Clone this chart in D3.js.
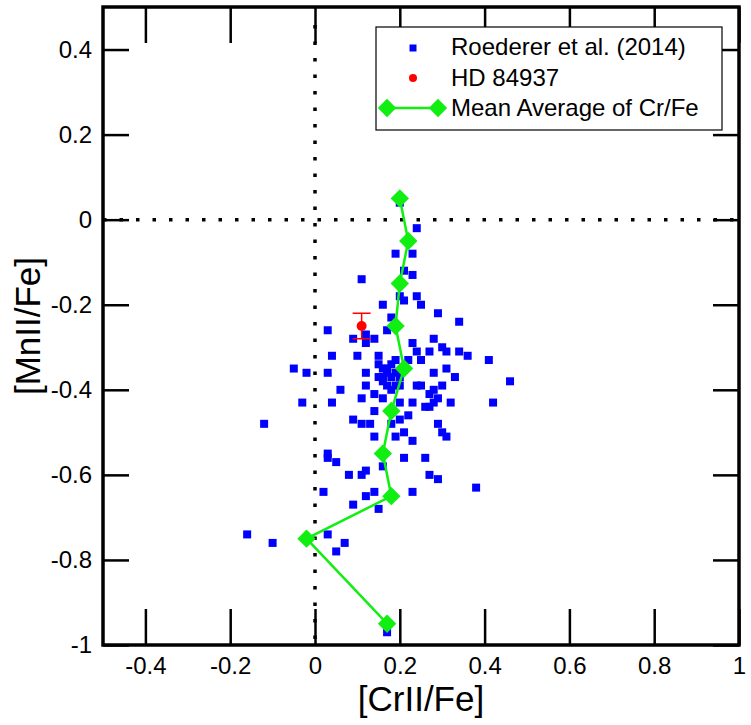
<!DOCTYPE html>
<html>
<head>
<meta charset="utf-8">
<script src="https://cdn.jsdelivr.net/npm/d3@7"></script>
<style>
  html, body { margin: 0; padding: 0; background: #fff; }
  svg { display: block; }
  text { font-family: "Liberation Sans", Arial, Helvetica, sans-serif; }
</style>
</head>
<body>
<svg id="chart" width="751" height="725"></svg>
<script>
// ---------- data ----------
const roedererX = [
  0.20, 0.24, 0.19, 0.23, 0.21, 0.23, 0.11, 0.20, 0.24, 0.21,
  0.16, 0.25, 0.29, 0.18, 0.34, 0.03, 0.17, 0.09, 0.12, 0.12,
  0.14, 0.28, 0.23, 0.30, 0.04, 0.10, 0.15, 0.24, 0.27, 0.31,
  0.34, 0.36, 0.22, 0.25, 0.41, -0.05, -0.02, 0.03, 0.12, 0.17,
  0.18, 0.16, 0.18, 0.28, 0.31, 0.33, 0.46, 0.06, 0.12, 0.16,
  0.17, 0.24, 0.25, 0.30, 0.18, 0.28, 0.27, 0.14, -0.03, 0.04,
  0.11, 0.16, 0.20, 0.23, 0.28, 0.32, 0.42, 0.26, 0.27, 0.29,
  0.14, 0.22, 0.20, 0.09, 0.11, 0.13, 0.18, -0.12, 0.29, 0.21,
  0.30, 0.14, 0.19, 0.31, 0.23, 0.03, 0.03, 0.05, 0.21, 0.26,
  0.16, 0.08, 0.11, 0.12, 0.27, 0.29, 0.38, 0.02, 0.12, 0.14,
  0.23, 0.09, 0.15, -0.16, 0.03, -0.10, 0.07, 0.05, 0.17,
  0.15, 0.16, 0.17, 0.19, 0.20, 0.15, 0.19, 0.20, 0.19
];
const roedererY = [
  0.04, -0.02, -0.08, -0.08, -0.12, -0.13, -0.14, -0.18, -0.18, -0.19,
  -0.20, -0.20, -0.22, -0.23, -0.24, -0.26, -0.26, -0.28, -0.27, -0.29,
  -0.28, -0.28, -0.29, -0.30, -0.32, -0.32, -0.32, -0.31, -0.31, -0.31,
  -0.31, -0.32, -0.33, -0.33, -0.33, -0.35, -0.36, -0.36, -0.36, -0.35,
  -0.34, -0.37, -0.37, -0.36, -0.35, -0.37, -0.38, -0.40, -0.39, -0.38,
  -0.39, -0.39, -0.39, -0.39, -0.40, -0.40, -0.41, -0.41, -0.43, -0.43,
  -0.42, -0.42, -0.43, -0.43, -0.43, -0.43, -0.43, -0.44, -0.44, -0.42,
  -0.45, -0.46, -0.47, -0.47, -0.48, -0.48, -0.48, -0.48, -0.48, -0.50,
  -0.50, -0.51, -0.51, -0.51, -0.52, -0.55, -0.56, -0.57, -0.56, -0.56,
  -0.58, -0.60, -0.60, -0.59, -0.60, -0.61, -0.63, -0.64, -0.65, -0.64,
  -0.64, -0.67, -0.68, -0.74, -0.74, -0.76, -0.76, -0.78, -0.97,
  -0.34, -0.35, -0.36, -0.36, -0.37, -0.37, -0.39, -0.39, -0.33
];
const hdX = [0.11];
const hdY = [-0.25];
const hdErr = [0.03];
const meanX = [0.20, 0.22, 0.20, 0.19, 0.21, 0.18, 0.16, 0.18, -0.02, 0.17];
const meanY = [0.05, -0.05, -0.15, -0.25, -0.35, -0.45, -0.55, -0.65, -0.75, -0.95];
const xTicks = [-0.4, -0.2, 0, 0.2, 0.4, 0.6, 0.8, 1];
const xTickLabels = ["-0.4", "-0.2", "0", "0.2", "0.4", "0.6", "0.8", "1"];
const yTicks = [-1, -0.8, -0.6, -0.4, -0.2, 0, 0.2, 0.4];
const yTickLabels = ["-1", "-0.8", "-0.6", "-0.4", "-0.2", "0", "0.2", "0.4"];
const legendLabels = ["Roederer et al. (2014)", "HD 84937", "Mean Average of Cr/Fe"];
const xTitle = "[CrII/Fe]";
const yTitle = "[MnII/Fe]";

// ---------- layout ----------
const svg = d3.select("#chart");
const L = 103, R = 739, T = 7, B = 645;
const x = d3.scaleLinear().domain([-0.5, 1]).range([L, R]);
const y = d3.scaleLinear().domain([-1, 0.5]).range([B, T]);
const fx = d => xTickLabels[xTicks.indexOf(d)];
const fy = d => yTickLabels[yTicks.indexOf(d)];

const BLUE = "#0000ff", RED = "#ff0000", GREEN = "#11ee11";

// axes
const gx = svg.append("g").attr("transform", `translate(0,${B})`)
  .call(d3.axisBottom(x).tickValues(xTicks).tickFormat(fx).tickSizeInner(-36).tickSizeOuter(0).tickPadding(12));
const gxt = svg.append("g").attr("transform", `translate(0,${T})`)
  .call(d3.axisTop(x).tickValues(xTicks).tickFormat("").tickSizeInner(-36).tickSizeOuter(0));
const gy = svg.append("g").attr("transform", `translate(${L},0)`)
  .call(d3.axisLeft(y).tickValues(yTicks).tickFormat(fy).tickSizeInner(-26).tickSizeOuter(0).tickPadding(11));
const gyr = svg.append("g").attr("transform", `translate(${R},0)`)
  .call(d3.axisRight(y).tickValues(yTicks).tickFormat("").tickSizeInner(-26).tickSizeOuter(0));
[gx, gxt, gy, gyr].forEach(g => {
  g.select(".domain").remove();
  g.selectAll(".tick line").attr("stroke", "#000").attr("stroke-width", 2.5);
  g.selectAll(".tick text").attr("fill", "#000").style("font-size", "24px")
    .style("font-family", '"Liberation Sans", Arial, Helvetica, sans-serif');
});

// zero dotted lines
svg.append("line").attr("x1", x(0)).attr("x2", x(0)).attr("y1", T + 18).attr("y2", B)
  .attr("stroke", "#000").attr("stroke-width", 3.5).attr("stroke-dasharray", "3.5 13");
svg.append("line").attr("x1", L).attr("x2", R).attr("y1", y(0)).attr("y2", y(0))
  .attr("stroke", "#000").attr("stroke-width", 3.5).attr("stroke-dasharray", "3.5 13");

// frame
svg.append("rect").attr("x", L).attr("y", T).attr("width", R - L).attr("height", B - T)
  .attr("fill", "none").attr("stroke", "#000").attr("stroke-width", 3.5);

// blue squares
const sq = 8;
svg.append("g").selectAll("rect").data(d3.range(roedererX.length)).join("rect")
  .attr("x", i => x(roedererX[i]) - sq / 2).attr("y", i => y(roedererY[i]) - sq / 2)
  .attr("width", sq).attr("height", sq).attr("fill", BLUE);

// mean line
const meanPts = d3.range(meanX.length).map(i => [x(meanX[i]), y(meanY[i])]);
svg.append("path").attr("d", d3.line()(meanPts)).attr("fill", "none")
  .attr("stroke", GREEN).attr("stroke-width", 2.5);
const diamond = d3.symbol().type(d3.symbolSquare).size(13 * 13);
svg.append("g").selectAll("path").data(meanPts).join("path")
  .attr("transform", d => `translate(${d[0]},${d[1]}) rotate(45)`)
  .attr("d", diamond).attr("fill", GREEN);

// HD 84937 with error bar
hdX.forEach((v, i) => {
  const cx = x(v), cy = y(hdY[i]);
  const yt = y(hdY[i] + hdErr[i]), yb = y(hdY[i] - hdErr[i]);
  const g = svg.append("g").attr("stroke", RED).attr("stroke-width", 1.5);
  g.append("line").attr("x1", cx).attr("x2", cx).attr("y1", yt).attr("y2", yb);
  g.append("line").attr("x1", cx - 9).attr("x2", cx + 9).attr("y1", yt).attr("y2", yt);
  g.append("line").attr("x1", cx - 9).attr("x2", cx + 9).attr("y1", yb).attr("y2", yb);
  svg.append("circle").attr("cx", cx).attr("cy", cy).attr("r", 5).attr("fill", RED);
});

// legend
const lg = svg.append("g");
lg.append("rect").attr("x", 376).attr("y", 27).attr("width", 346).attr("height", 103)
  .attr("fill", "#fff").attr("stroke", "#000").attr("stroke-width", 1.2);
lg.append("rect").attr("x", 413 - 3.5).attr("y", 48 - 3.5).attr("width", 7).attr("height", 7).attr("fill", BLUE);
lg.append("circle").attr("cx", 413).attr("cy", 78).attr("r", 4).attr("fill", RED);
lg.append("line").attr("x1", 387).attr("x2", 438).attr("y1", 108).attr("y2", 108)
  .attr("stroke", GREEN).attr("stroke-width", 2.5);
[387, 438].forEach(px => lg.append("path").attr("d", diamond)
  .attr("transform", `translate(${px},108) rotate(45)`).attr("fill", GREEN));
const baselines = [55, 86, 116];
legendLabels.forEach((t, i) => lg.append("text").attr("x", 451).attr("y", baselines[i])
  .style("font-size", "24px").attr("fill", "#000").text(t));

// titles
svg.append("text").attr("x", (L + R) / 2).attr("y", 711).attr("text-anchor", "middle")
  .style("font-size", "35px").attr("fill", "#000").text(xTitle);
svg.append("text").attr("transform", `translate(40,${(T + B) / 2}) rotate(-90)`)
  .attr("text-anchor", "middle").style("font-size", "35px").attr("fill", "#000").text(yTitle);
</script>
</body>
</html>
